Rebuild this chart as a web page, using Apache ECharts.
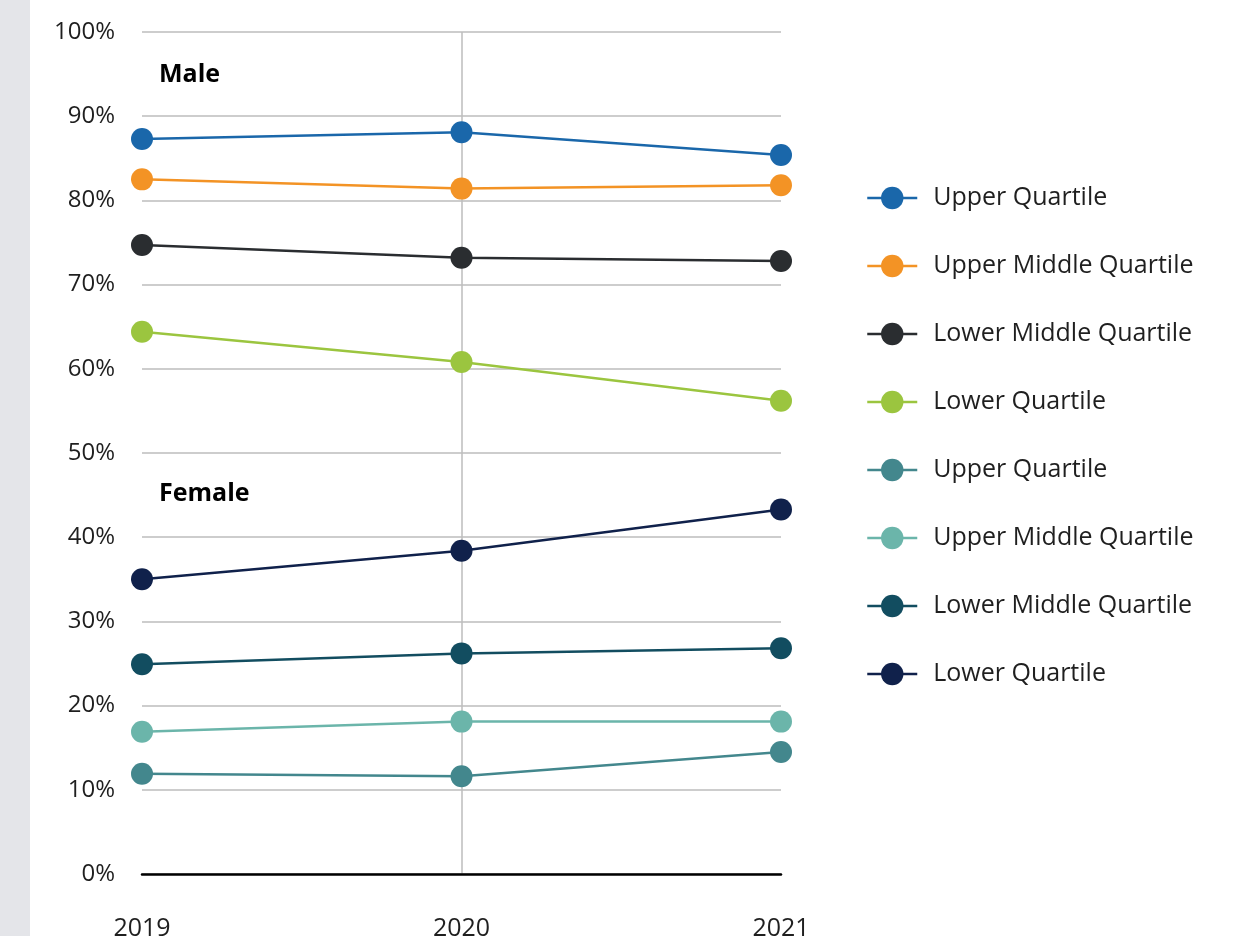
<!DOCTYPE html>
<html>
<head>
<meta charset="utf-8">
<script src="https://cdn.jsdelivr.net/npm/echarts@6/dist/echarts.min.js"></script>
<style>html,body{margin:0;padding:0;background:#fff}#c{width:1250px;height:936px}</style>
</head>
<body>
<div id="c"></div>
<script>
const years = ['2019', '2020', '2021'];
const maleUpper = [87.3, 88.1, 85.4];
const maleUpperMiddle = [82.5, 81.4, 81.8];
const maleLowerMiddle = [74.7, 73.2, 72.8];
const maleLower = [64.4, 60.8, 56.2];
const femaleUpper = [11.9, 11.6, 14.5];
const femaleUpperMiddle = [16.9, 18.1, 18.1];
const femaleLowerMiddle = [24.9, 26.2, 26.8];
const femaleLower = [35.0, 38.4, 43.3];
const yTicks = [0, 10, 20, 30, 40, 50, 60, 70, 80, 90, 100];

const seriesDefs = [
  ['Male Upper Quartile', maleUpper, '#1a67aa'],
  ['Male Upper Middle Quartile', maleUpperMiddle, '#f39325'],
  ['Male Lower Middle Quartile', maleLowerMiddle, '#2a2d30'],
  ['Male Lower Quartile', maleLower, '#9bc53f'],
  ['Female Upper Quartile', femaleUpper, '#43878d'],
  ['Female Upper Middle Quartile', femaleUpperMiddle, '#6bb5aa'],
  ['Female Lower Middle Quartile', femaleLowerMiddle, '#124d60'],
  ['Female Lower Quartile', femaleLower, '#10214b']
];

const chart = echarts.init(document.getElementById('c'), null, {renderer: 'canvas'});
const FONT = '"Open Sans", "Noto Sans", sans-serif';
chart.setOption({
  animation: false,
  backgroundColor: '#fff',
  textStyle: {fontFamily: FONT},
  graphic: [
    {type: 'rect', left: 0, top: 0, shape: {width: 30, height: 936}, style: {fill: '#e4e5e9'}, z: -10},
    {type: 'text', left: 159, top: 62, style: {text: 'Male', font: 'bold 25px ' + FONT, fill: '#000'}},
    {type: 'text', left: 159, top: 481, style: {text: 'Female', font: 'bold 25px ' + FONT, fill: '#000'}}
  ],
  grid: {left: 142, right: 469, top: 32, bottom: 62, containLabel: false, outerBoundsMode: 'none'},
  legend: {
    orient: 'vertical',
    left: 861,
    top: 179,
    itemWidth: 50,
    itemHeight: 28,
    itemGap: 40,
    lineStyle: {width: 2.5},
    formatter: n => n.replace(/^(Male|Female) /, ''),
    textStyle: {fontSize: 25, color: '#1f1f1f', fontFamily: FONT, padding: [0, 0, 0, 11], lineHeight: 28},
    data: seriesDefs.map(d => d[0])
  },
  xAxis: {
    type: 'category',
    data: years,
    boundaryGap: false,
    axisLine: {show: true, lineStyle: {color: '#000', width: 2.5}},
    axisTick: {show: false},
    axisLabel: {fontSize: 25, color: '#1f1f1f', margin: 42, fontFamily: FONT},
    splitLine: {show: true, interval: (i) => i === 1, lineStyle: {color: '#bdbdbd', width: 1.5}}
  },
  yAxis: {
    type: 'value',
    min: 0,
    max: 100,
    interval: 10,
    axisLine: {show: false},
    axisTick: {show: false},
    axisLabel: {fontSize: 24, color: '#1f1f1f', margin: 27, formatter: v => yTicks.includes(v) ? v + '%' : '', fontFamily: FONT},
    splitLine: {show: true, lineStyle: {color: '#bdbdbd', width: 1.5}}
  },
  series: seriesDefs.map(([name, data, color]) => ({
    name: name,
    type: 'line',
    data: data,
    symbol: 'circle',
    symbolSize: 22,
    itemStyle: {color: color},
    lineStyle: {color: color, width: 2.5},
    emphasis: {disabled: true}
  }))
});
</script>
</body>
</html>
